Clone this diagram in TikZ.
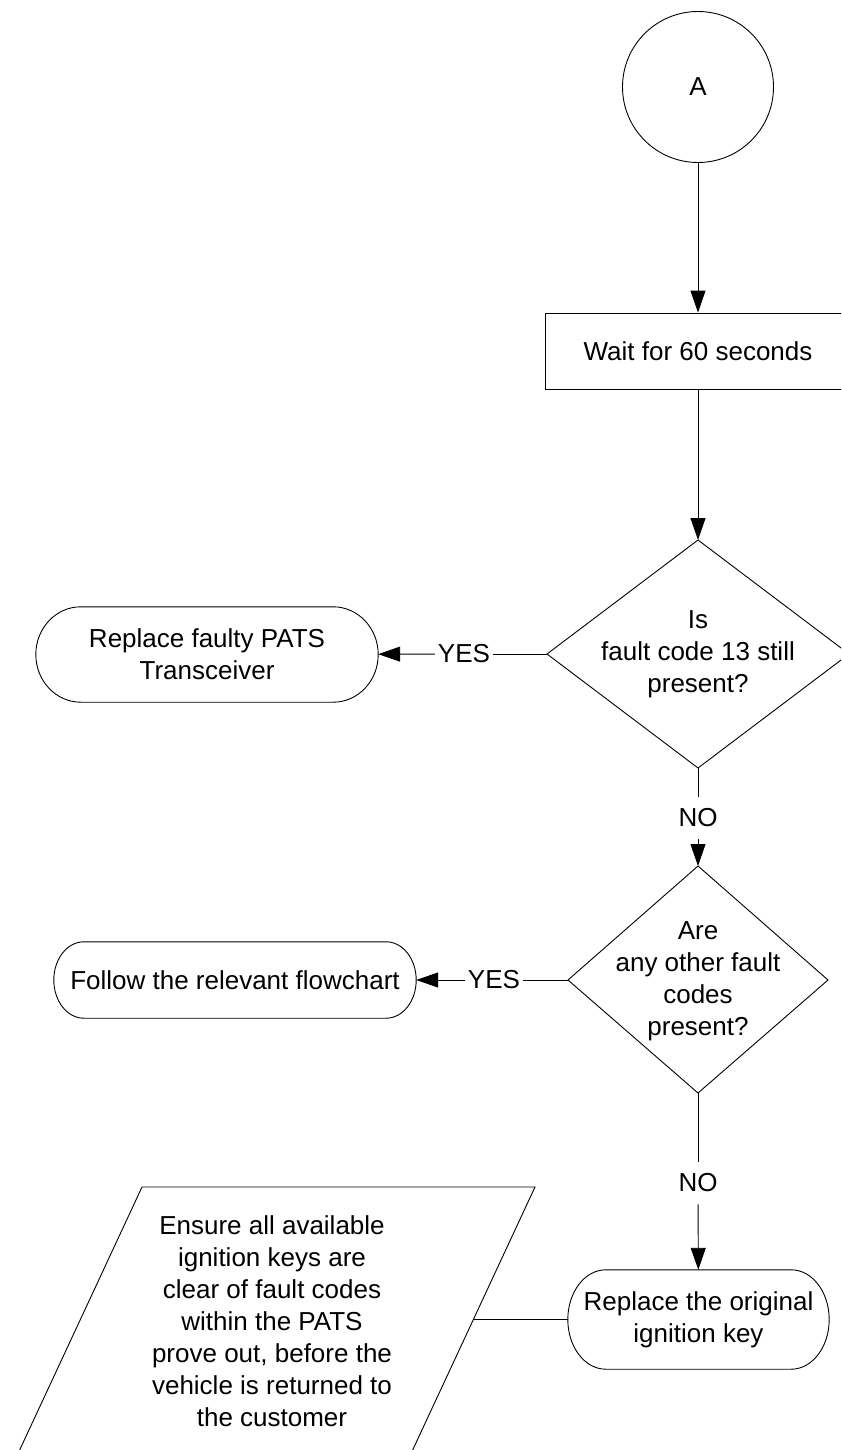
\documentclass[tikz,border=0pt]{standalone}
\usepackage{fontspec}
\setmainfont{Liberation Sans}
\usetikzlibrary{arrows.meta,calc}
\newcommand\drawterminal[2]{%
  \draw[line] let \p1=(#1.north west), \p2=(#1.south east) in
    (\x1+#2pt,\y1) -- (\x2-#2pt,\y1)
    arc[start angle=90,end angle=-90,x radius=#2pt,y radius={(\y1-\y2)/2}]
    -- (\x1+#2pt,\y2)
    arc[start angle=270,end angle=90,x radius=#2pt,y radius={(\y1-\y2)/2}]
    -- cycle;}
\begin{document}
\begin{tikzpicture}[x=1pt,y=-1pt,
  every node/.style={font=\fontsize{26}{32}\selectfont, align=center},
  line/.style={draw=black, line width=0.9pt},
  arr/.style={line, -{Triangle[length=22pt,width=15pt]}},
  txt/.style={inner sep=0pt},
  lbl/.style={inner xsep=3pt, inner ysep=12pt},
]
\useasboundingbox (0,0) rectangle (841,1450);
\clip (0,0) rectangle (841,1450);

% start connector
\node[circle, line, minimum size=151pt, inner sep=0pt] (A) at (698,87) {A};

% wait box
\node[rectangle, line, minimum width=306pt, minimum height=76pt, inner sep=0pt] (wait) at (698,351) {Wait for 60 seconds};
\draw[arr] (A) -- (wait);

% decision 1
\node[txt] (q1) at (698,654) {Is\\fault code 13 still\\present?};
\coordinate (q1n) at (698,540);
\coordinate (q1e) at (849,654);
\coordinate (q1s) at (698,768);
\coordinate (q1w) at (547,654);
\draw[line] (q1n) -- (q1e) -- (q1s) -- (q1w) -- cycle;
\draw[arr] (wait) -- (q1n);

% terminal 1
\node[txt, minimum width=342pt, minimum height=95pt] (t1) at (207,654.5) {Replace faulty PATS\\Transceiver};
\drawterminal{t1}{45}
\node[lbl] (yes1) at (464,654) {YES};
\draw[line] (q1w) -- (yes1);
\draw[arr] (yes1) -- (t1);

% NO 1
\node[lbl] (no1) at (698,818) {NO};
\draw[line] (q1s) -- (no1);

% decision 2
\node[txt] (q2) at (698,981) {Are\\any other fault\\codes\\present?};
\coordinate (q2n) at (698,866);
\coordinate (q2e) at (828,980);
\coordinate (q2s) at (698,1093);
\coordinate (q2w) at (568,980);
\draw[line] (q2n) -- (q2e) -- (q2s) -- (q2w) -- cycle;
\draw[arr] (no1) -- (q2n);

% terminal 2
\node[txt, minimum width=362pt, minimum height=76pt] (t2) at (235,980) {Follow the relevant flowchart};
\drawterminal{t2}{30}
\node[lbl] (yes2) at (494,980) {YES};
\draw[line] (q2w) -- (yes2);
\draw[arr] (yes2) -- (t2);

% NO 2
\node[lbl] (no2) at (698,1183) {NO};
\draw[line] (q2s) -- (no2);

% terminal 3
\node[txt, minimum width=261pt, minimum height=99pt] (t3) at (698.5,1319.5) {Replace the original\\ignition key};
\drawterminal{t3}{38}
\draw[arr] (no2) -- (t3);

% note parallelogram
\node[txt] (note) at (272,1321) {Ensure all available\\ignition keys are\\clear of fault codes\\within the PATS\\prove out, before the\\vehicle is returned to\\the customer};
\coordinate (p1) at (142,1187);
\coordinate (p2) at (535,1187);
\coordinate (p3) at (408,1460);
\coordinate (p4) at (15,1460);
\draw[line] (p1) -- (p2) -- (p3) -- (p4) -- cycle;
\coordinate (pr) at (473,1319.5);
\draw[line] (pr) -- (t3.west);
\end{tikzpicture}
\end{document}
